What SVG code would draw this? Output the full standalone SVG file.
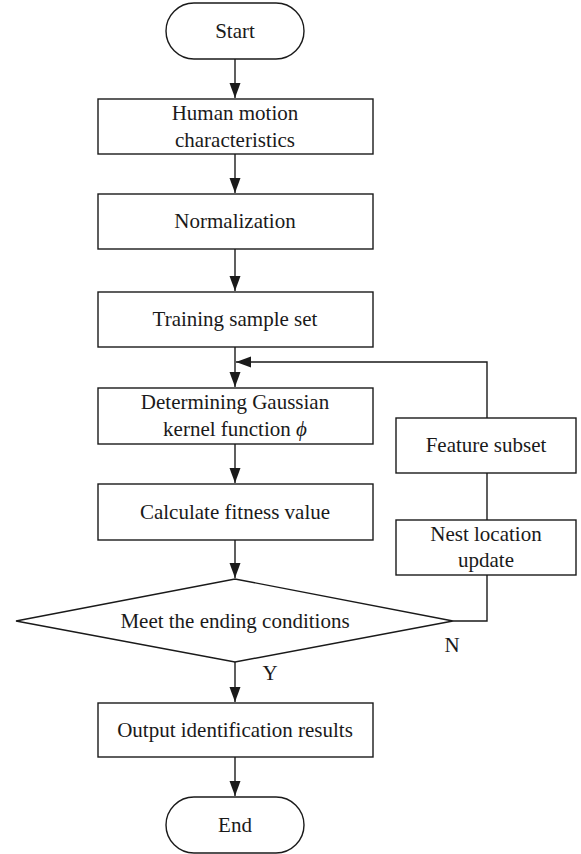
<svg xmlns="http://www.w3.org/2000/svg" width="581" height="854" viewBox="0 0 581 854">
<style>
.s{fill:#fff;stroke:#1a1a1a;stroke-width:1.4}
.c{fill:none;stroke:#1a1a1a;stroke-width:1.4}
text{font-family:"Liberation Serif","Times New Roman",serif;font-size:21px;fill:#1a1a1a;text-anchor:middle}
</style>
<defs>
<marker id="ah" markerUnits="userSpaceOnUse" markerWidth="16" markerHeight="12" refX="15" refY="5.5" orient="auto">
<path d="M0,0 L15,5.5 L0,11 z" fill="#1a1a1a"/>
</marker>
</defs>
<g id="connectors">
<path class="c" d="M235,59 V98" marker-end="url(#ah)"/>
<path class="c" d="M235,154 V193" marker-end="url(#ah)"/>
<path class="c" d="M235,249 V291" marker-end="url(#ah)"/>
<path class="c" d="M235,347 V387" marker-end="url(#ah)"/>
<path class="c" d="M235,444 V483" marker-end="url(#ah)"/>
<path class="c" d="M235,540 V578" marker-end="url(#ah)"/>
<path class="c" d="M235,662 V702" marker-end="url(#ah)"/>
<path class="c" d="M235,757 V796" marker-end="url(#ah)"/>
<path class="c" d="M453,621 H487 V575"/>
<path class="c" d="M487,520 V473"/>
<path class="c" d="M487,418 V362 H236" marker-end="url(#ah)"/>
<text x="270" y="680">Y</text>
<text x="452" y="652">N</text>
</g>
<g id="start"><rect class="s" x="166" y="3" width="138" height="56" rx="28"/><text x="235" y="38">Start</text></g>
<g id="human"><rect class="s" x="98" y="99" width="275" height="55"/><text x="235" y="120">Human motion</text><text x="235" y="147">characteristics</text></g>
<g id="norm"><rect class="s" x="98" y="194" width="275" height="55"/><text x="235" y="228">Normalization</text></g>
<g id="training"><rect class="s" x="98" y="292" width="275" height="55"/><text x="235" y="326">Training sample set</text></g>
<g id="gaussian"><rect class="s" x="98" y="388" width="275" height="56"/><text x="235" y="409">Determining Gaussian</text><text x="235" y="436">kernel function <tspan font-style="italic">ϕ</tspan></text></g>
<g id="fitness"><rect class="s" x="98" y="484" width="275" height="56"/><text x="235" y="519">Calculate fitness value</text></g>
<g id="ending"><polygon class="s" points="16,621 235,579 453,621 235,662"/><text x="235" y="628">Meet the ending conditions</text></g>
<g id="output"><rect class="s" x="98" y="703" width="275" height="54"/><text x="235" y="737">Output identification results</text></g>
<g id="end"><rect class="s" x="166" y="797" width="138" height="56" rx="28"/><text x="235" y="832">End</text></g>
<g id="feature"><rect class="s" x="396" y="418" width="180" height="55"/><text x="486" y="452">Feature subset</text></g>
<g id="nest"><rect class="s" x="396" y="520" width="180" height="55"/><text x="486" y="541">Nest location</text><text x="486" y="567">update</text></g>
</svg>
